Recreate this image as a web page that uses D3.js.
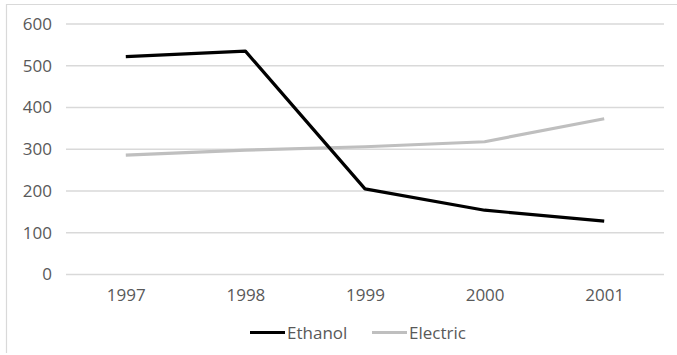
<!DOCTYPE html>
<html>
<head>
<meta charset="utf-8">
<script src="https://cdn.jsdelivr.net/npm/d3@7"></script>
<style>
  html, body { margin: 0; padding: 0; background: #fff; }
  svg { display: block; font-family: "Open Sans", "Segoe UI", sans-serif; }
</style>
</head>
<body>
<svg id="chart" width="677" height="355"></svg>
<script>
// Vehicle counts by fuel type
const years = ["1997", "1998", "1999", "2000", "2001"];
const ethanol = [522, 535, 205, 154, 128];
const electric = [286, 298, 306, 318, 373];
const yTicks = [0, 100, 200, 300, 400, 500, 600];

const seriesList = [
  { name: "Ethanol", values: ethanol, color: "#000000" },
  { name: "Electric", values: electric, color: "#bfbfbf" }
];

const svg = d3.select("#chart");
const textColor = "#595959";
const gridColor = "#d9d9d9";

// chart frame (top and left edges)
svg.append("line").attr("x1", 6).attr("x2", 677).attr("y1", 4.5).attr("y2", 4.5)
  .attr("stroke", gridColor).attr("stroke-width", 1.2);
svg.append("line").attr("x1", 6.5).attr("x2", 6.5).attr("y1", 4).attr("y2", 353)
  .attr("stroke", gridColor).attr("stroke-width", 1.2);

const plot = { left: 66, right: 664, top: 24, bottom: 274.5 };

const x = d3.scalePoint().domain(years).range([plot.left, plot.right]).padding(0.5);
const y = d3.scaleLinear().domain([0, 600]).range([plot.bottom, plot.top]);

// horizontal gridlines
svg.append("g").selectAll("line").data(yTicks).join("line")
  .attr("x1", plot.left).attr("x2", plot.right)
  .attr("y1", d => y(d)).attr("y2", d => y(d))
  .attr("stroke", gridColor).attr("stroke-width", 1.3);

// y axis labels
const yAxis = d3.axisLeft(y).tickValues(yTicks).tickSize(0).tickPadding(0);
const gy = svg.append("g").attr("transform", `translate(${plot.left - 14},0)`).call(yAxis);
gy.select(".domain").remove();
gy.selectAll("text").attr("fill", textColor).style("font-size", "17px")
  .style("font-family", "'Open Sans', sans-serif");

// x axis labels
const xAxis = d3.axisBottom(x).tickSize(0).tickPadding(0);
const gx = svg.append("g").attr("transform", `translate(0,${plot.bottom + 14})`).call(xAxis);
gx.select(".domain").remove();
gx.selectAll("text").attr("fill", textColor).style("font-size", "17px")
  .style("font-family", "'Open Sans', sans-serif");

// series lines
const line = d3.line().x((d, i) => x(years[i])).y(d => y(d));
svg.append("g").selectAll("path").data(seriesList.slice().reverse()).join("path")
  .attr("d", d => line(d.values))
  .attr("fill", "none")
  .attr("stroke", d => d.color)
  .attr("stroke-width", 3.2)
  .attr("stroke-linejoin", "round");

// legend
const legendItems = [
  { name: "Ethanol", color: "#000000", x0: 250 },
  { name: "Electric", color: "#bfbfbf", x0: 372 }
];
const lg = svg.append("g");
legendItems.forEach(item => {
  lg.append("line").attr("x1", item.x0).attr("x2", item.x0 + 35)
    .attr("y1", 332.5).attr("y2", 332.5)
    .attr("stroke", item.color).attr("stroke-width", 3.2);
  lg.append("text").attr("x", item.x0 + 37).attr("y", 338.5)
    .attr("fill", textColor).style("font-size", "17px")
    .text(item.name);
});
</script>
</body>
</html>
